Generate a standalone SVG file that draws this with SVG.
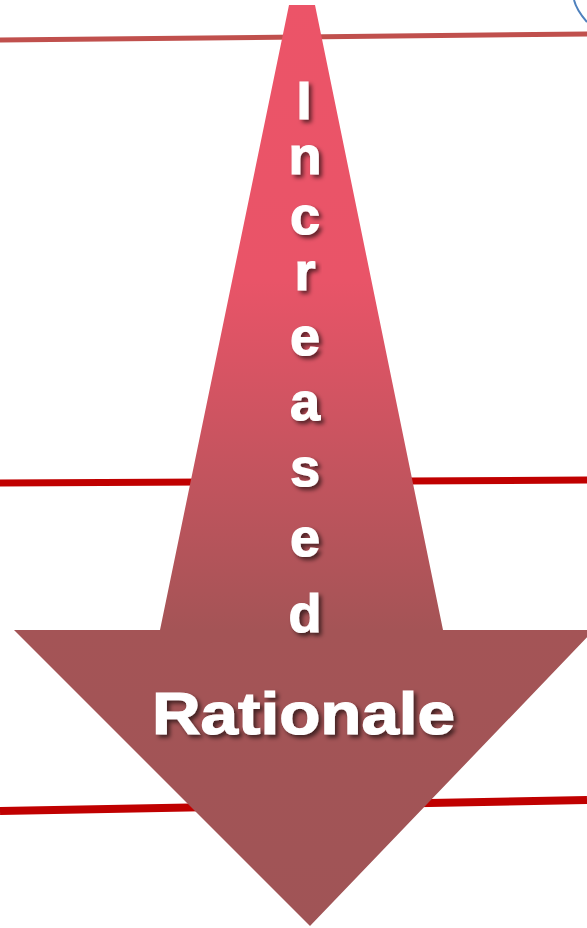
<svg xmlns="http://www.w3.org/2000/svg" width="587" height="928" viewBox="0 0 587 928">
<defs>
<linearGradient id="g" x1="0" y1="0" x2="0" y2="928" gradientUnits="userSpaceOnUse">
<stop offset="0" stop-color="#EC5468"/>
<stop offset="0.3" stop-color="#E95468"/>
<stop offset="0.68" stop-color="#A45456"/>
<stop offset="1" stop-color="#A05456"/>
</linearGradient>
<filter id="sh" x="-20%" y="-20%" width="150%" height="150%">
<feDropShadow dx="3" dy="3" stdDeviation="2" flood-color="#000" flood-opacity="0.6"/>
</filter>
<style>
.t{font-family:"Liberation Sans",Arial,sans-serif;font-weight:bold;fill:#fff;stroke:#fff;stroke-width:1.2;filter:url(#sh)}
.v{font-size:54px;text-anchor:middle}
</style>
</defs>
<g id="lines">
<line x1="0" y1="40" x2="587" y2="34" stroke="#C0504D" stroke-width="5"/>
<line x1="0" y1="483" x2="587" y2="480" stroke="#C00000" stroke-width="7"/>
<line x1="0" y1="811" x2="587" y2="800" stroke="#C00000" stroke-width="8"/>
<path d="M574,0 C576,8 580,14 587,22" fill="none" stroke="#4F81BD" stroke-width="2"/>
</g>
<g id="arrow">
<path d="M289,5 L315,5 L443,630 L594,630 L310,926 L14,630 L160,630 Z" fill="url(#g)"/>
</g>
<g id="text">
<text class="t v" x="304" y="119">I</text>
<text class="t v" x="305" y="174">n</text>
<text class="t v" x="305" y="234">c</text>
<text class="t v" x="305" y="290">r</text>
<text class="t v" x="305" y="355">e</text>
<text class="t v" x="305" y="420">a</text>
<text class="t v" x="305" y="486">s</text>
<text class="t v" x="305" y="556">e</text>
<text class="t v" x="305" y="632">d</text>
<text class="t" x="152" y="734" font-size="60" textLength="303" lengthAdjust="spacingAndGlyphs">Rationale</text>
</g>
</svg>
